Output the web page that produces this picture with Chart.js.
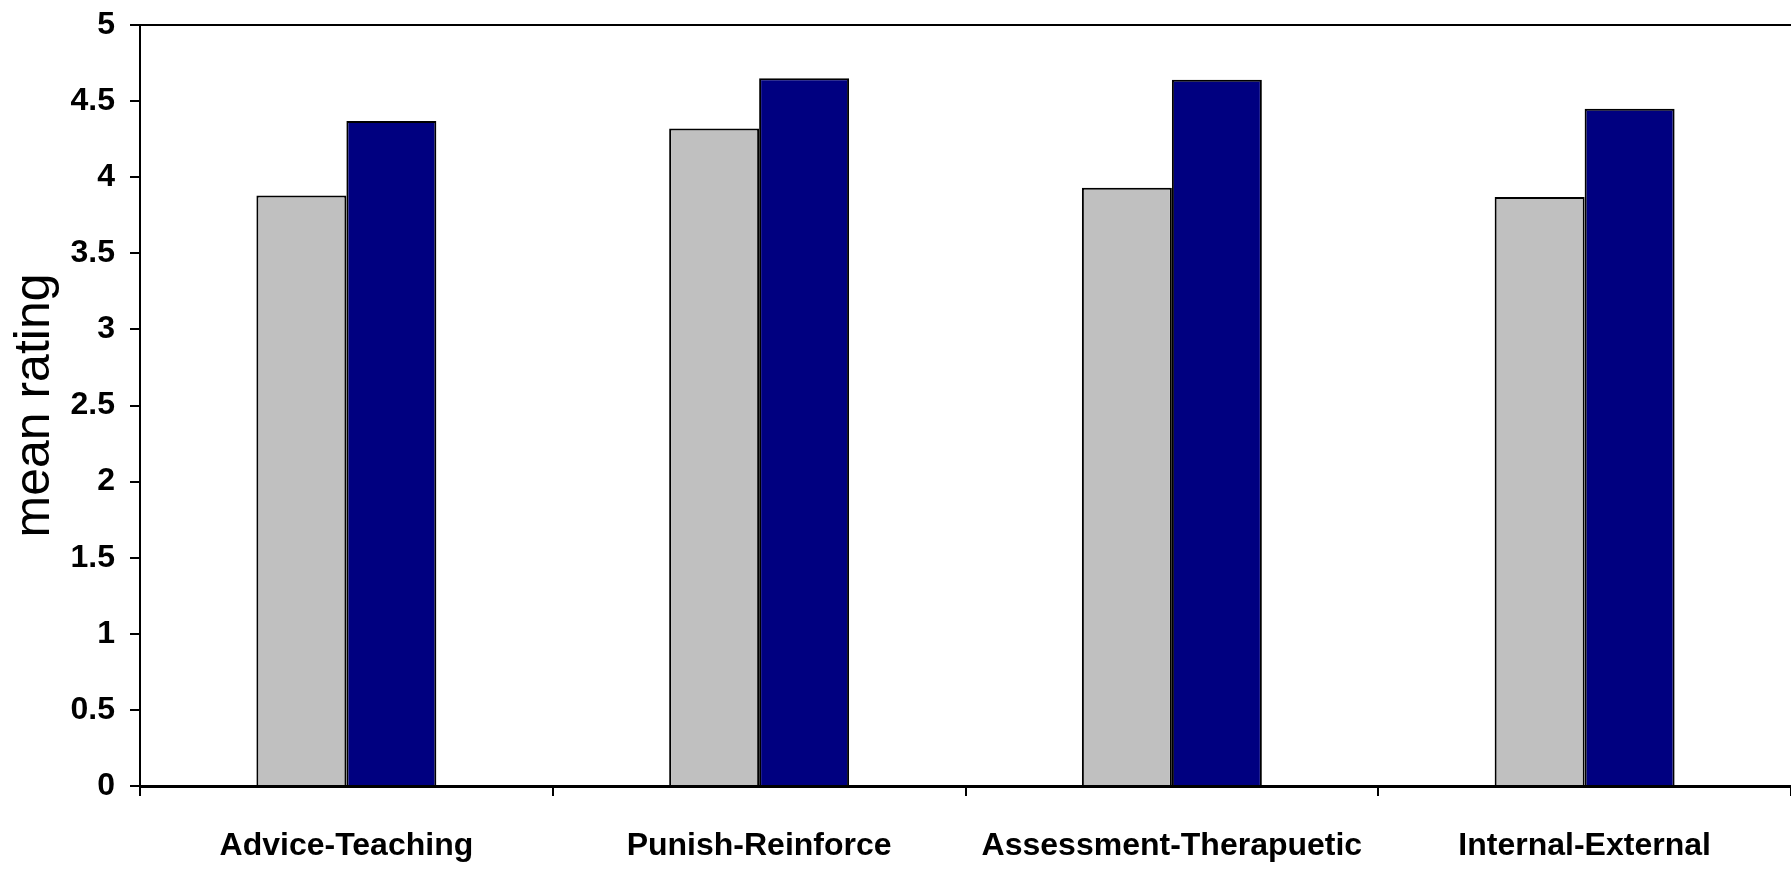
<!DOCTYPE html>
<html lang="en">
<head>
<meta charset="UTF-8">
<title>Mean rating by dimension</title>
<script src="https://cdn.jsdelivr.net/npm/chart.js"></script>
<style>
body{margin:0;background:#fff;}
.wrap{width:1791px;height:877px;}
</style>
</head>
<body>
<div class="wrap"><canvas id="ratingChart"></canvas></div>
<script>

const categories = ['Advice-Teaching','Punish-Reinforce','Assessment-Therapuetic','Internal-External'];
const greyValues = [3.88, 4.32, 3.93, 3.87];
const blueValues = [4.37, 4.65, 4.64, 4.45];
const yMin = 0, yMax = 5, yStep = 0.5;

const sans = '"Liberation Sans", Arial, sans-serif';

const ctx = document.getElementById('ratingChart').getContext('2d');

new Chart(ctx,{
    type:'bar',
    data:{
        labels:categories,
        datasets:[
            {data:greyValues, backgroundColor:'#c0c0c0', borderColor:'#000', borderWidth:2},
            {data:blueValues, backgroundColor:'#000080', borderColor:'#000', borderWidth:2}
        ]
    },
    options:{
        responsive:true,
        maintainAspectRatio:false,
        animation:false,
        layout:{padding:0, autoPadding:false},
        plugins:{legend:{display:false}, tooltip:{enabled:false}},
        datasets:{bar:{categoryPercentage:0.436, barPercentage:1}},
        scales:{
            x:{
                position:'bottom',
                grid:{offset:true, drawOnChartArea:false, tickLength:10, color:'#000', lineWidth:2},
                border:{color:'#000', width:3},
                ticks:{color:'#000', padding:31, maxRotation:0, autoSkip:false,
                    font:{family:sans, size:32, weight:'bold'}},
                afterFit:s=>{s.height=91; s.paddingLeft=0; s.paddingRight=0;}
            },
            // plain line along the top of the plot
            top:{
                type:'category',
                position:'top',
                grid:{display:false},
                ticks:{display:false},
                border:{color:'#000', width:2},
                afterFit:s=>{s.height=25; s.paddingLeft=0; s.paddingRight=0;}
            },
            y:{
                min:yMin, max:yMax,
                grid:{drawOnChartArea:false, tickLength:10, color:'#000', lineWidth:2},
                border:{color:'#000', width:2},
                ticks:{stepSize:yStep, color:'#000', padding:15,
                    font:{family:sans, size:32, weight:'bold'},
                    callback:v=>String(v)},
                title:{display:true, text:'mean rating', color:'#000', padding:{top:5,bottom:0},
                    font:{family:sans, size:50, weight:'normal'}},
                afterFit:s=>{s.width=140; s.paddingTop=0; s.paddingBottom=0;}
            }
        }
    }
});

</script>
</body>
</html>
